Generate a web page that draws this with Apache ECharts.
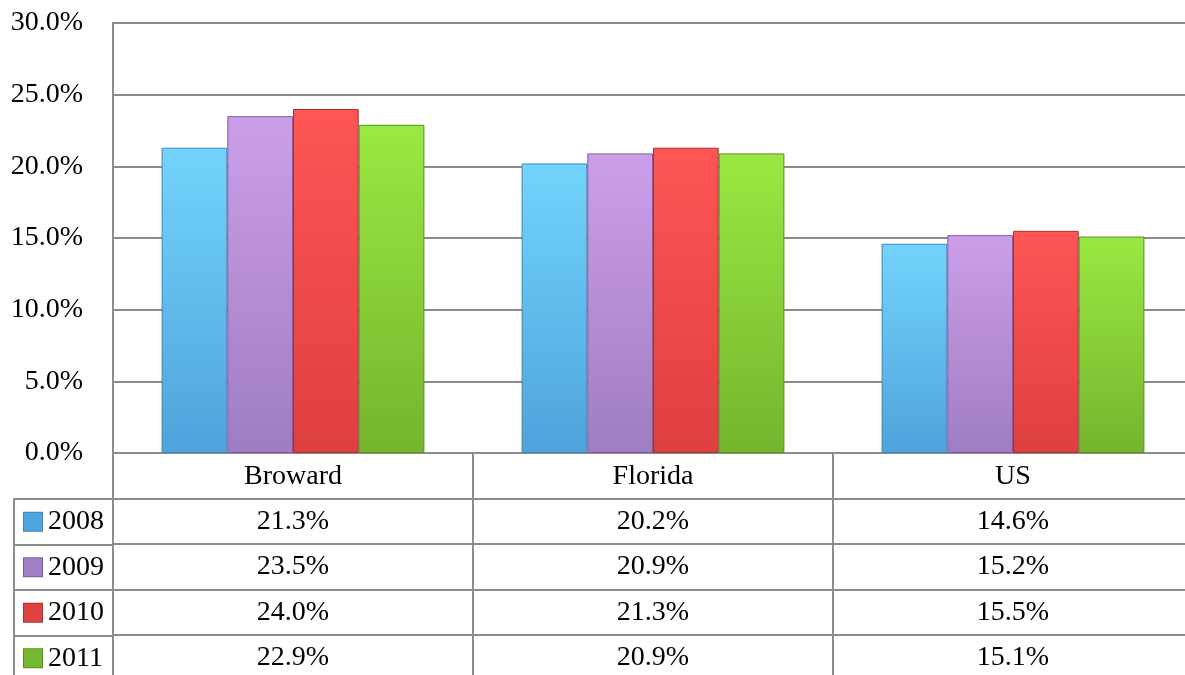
<!DOCTYPE html>
<html>
<head>
<meta charset="utf-8">
<script src="https://cdn.jsdelivr.net/npm/echarts@6/dist/echarts.min.js"></script>
<style>
  html, body { margin: 0; padding: 0; background: #fff; }
  #chart { width: 1185px; height: 675px; }
</style>
</head>
<body>
<div id="chart"></div>
<script>
var categories = ['Broward', 'Florida', 'US'];
var years = ['2008', '2009', '2010', '2011'];
var values2008 = [21.3, 20.2, 14.6];
var values2009 = [23.5, 20.9, 15.2];
var values2010 = [24.0, 21.3, 15.5];
var values2011 = [22.9, 20.9, 15.1];
var yTicks = [0, 5, 10, 15, 20, 25, 30];

var seriesValues = [values2008, values2009, values2010, values2011];
// top colour, bottom colour, border colour
var barColors = [
    ['#72d4fc', '#4ea3da', '#3e86b8'],
    ['#cc9ee9', '#9f7dc2', '#7e5f9e'],
    ['#ff5555', '#de3f3f', '#a83030'],
    ['#9ae842', '#74b52d', '#5a8d22']
];
var legendColors = ['#4fa6de', '#a07ec4', '#e04242', '#78b830'];

var font = 'Liberation Serif';
var lineColor = '#8c8c8c';

var chart = echarts.init(document.getElementById('chart'));

var series = [];
for (var i = 0; i < years.length; i++) {
    series.push({
        name: years[i],
        type: 'bar',
        xAxisIndex: 0,
        yAxisIndex: 0,
        barGap: '0%',
        barCategoryGap: '27%',
        itemStyle: {
            color: new echarts.graphic.LinearGradient(0, 0, 0, 1, [
                { offset: 0, color: barColors[i][0] },
                { offset: 1, color: barColors[i][1] }
            ]),
            borderColor: barColors[i][2],
            borderWidth: 1
        },
        data: seriesValues[i]
    });
}

// 表格里的数值
var cellData = [];
for (var i = 0; i < years.length; i++) {
    for (var j = 0; j < categories.length; j++) {
        cellData.push([categories[j], years[i], seriesValues[i][j]]);
    }
}
series.push({
    type: 'scatter',
    xAxisIndex: 1,
    yAxisIndex: 1,
    symbolSize: 0,
    silent: true,
    itemStyle: { opacity: 1 },
    label: {
        show: true,
        position: 'inside',
        color: '#000',
        fontFamily: font,
        fontSize: 28,
        formatter: function (p) { return p.value[2].toFixed(1) + '%'; }
    },
    data: cellData
});

var legendRich = {
    t: { fontFamily: font, fontSize: 28, color: '#000', padding: [0, 0, 0, 6] }
};
for (var i = 0; i < legendColors.length; i++) {
    legendRich['s' + i] = {
        width: 18, height: 18,
        backgroundColor: legendColors[i],
        borderColor: barColors[i][2], borderWidth: 1
    };
}

var option = {
    animation: false,
    grid: [
        { left: 113, width: 1080, top: 23, height: 430, outerBoundsMode: 'none' },
        { left: 113, width: 1080, top: 453, height: 227.5, outerBoundsMode: 'none' },
        { left: 14, width: 99, top: 499, height: 182, outerBoundsMode: 'none' }
    ],
    xAxis: [
        {
            gridIndex: 0,
            type: 'category',
            data: categories,
            axisLine: { show: true, lineStyle: { color: lineColor, width: 2 } },
            axisTick: { show: false },
            axisLabel: { margin: 10, color: '#000', fontFamily: font, fontSize: 28 }
        },
        {
            gridIndex: 1,
            type: 'category',
            data: categories,
            axisLine: { show: false },
            axisTick: { show: false },
            axisLabel: { show: false },
            splitLine: { show: true, lineStyle: { color: lineColor, width: 2 } }
        },
        {
            gridIndex: 2,
            type: 'value',
            show: false
        }
    ],
    yAxis: [
        {
            gridIndex: 0,
            type: 'value',
            min: 0,
            max: yTicks[yTicks.length - 1],
            interval: 5,
            axisLine: { show: true, lineStyle: { color: lineColor, width: 2 } },
            axisTick: { show: false },
            axisLabel: {
                margin: 30,
                color: '#000',
                fontFamily: font,
                fontSize: 28,
                formatter: function (v) { return v.toFixed(1) + '%'; }
            },
            splitLine: { show: true, lineStyle: { color: lineColor, width: 2 } }
        },
        {
            gridIndex: 1,
            type: 'category',
            inverse: true,
            data: [''].concat(years),
            axisLine: { show: true, lineStyle: { color: lineColor, width: 2 } },
            axisTick: { show: false },
            axisLabel: { show: false },
            splitLine: { show: true, lineStyle: { color: lineColor, width: 2 } }
        },
        {
            gridIndex: 2,
            type: 'category',
            inverse: true,
            data: years,
            axisLine: { show: true, lineStyle: { color: lineColor, width: 2 } },
            axisTick: { show: false },
            axisLabel: {
                inside: true,
                margin: 10,
                formatter: function (v, idx) { return '{s' + idx + '|}{t|' + v + '}'; },
                rich: legendRich
            },
            splitLine: { show: true, lineStyle: { color: lineColor, width: 2 } }
        }
    ],
    series: series
};

chart.setOption(option);
</script>
</body>
</html>
